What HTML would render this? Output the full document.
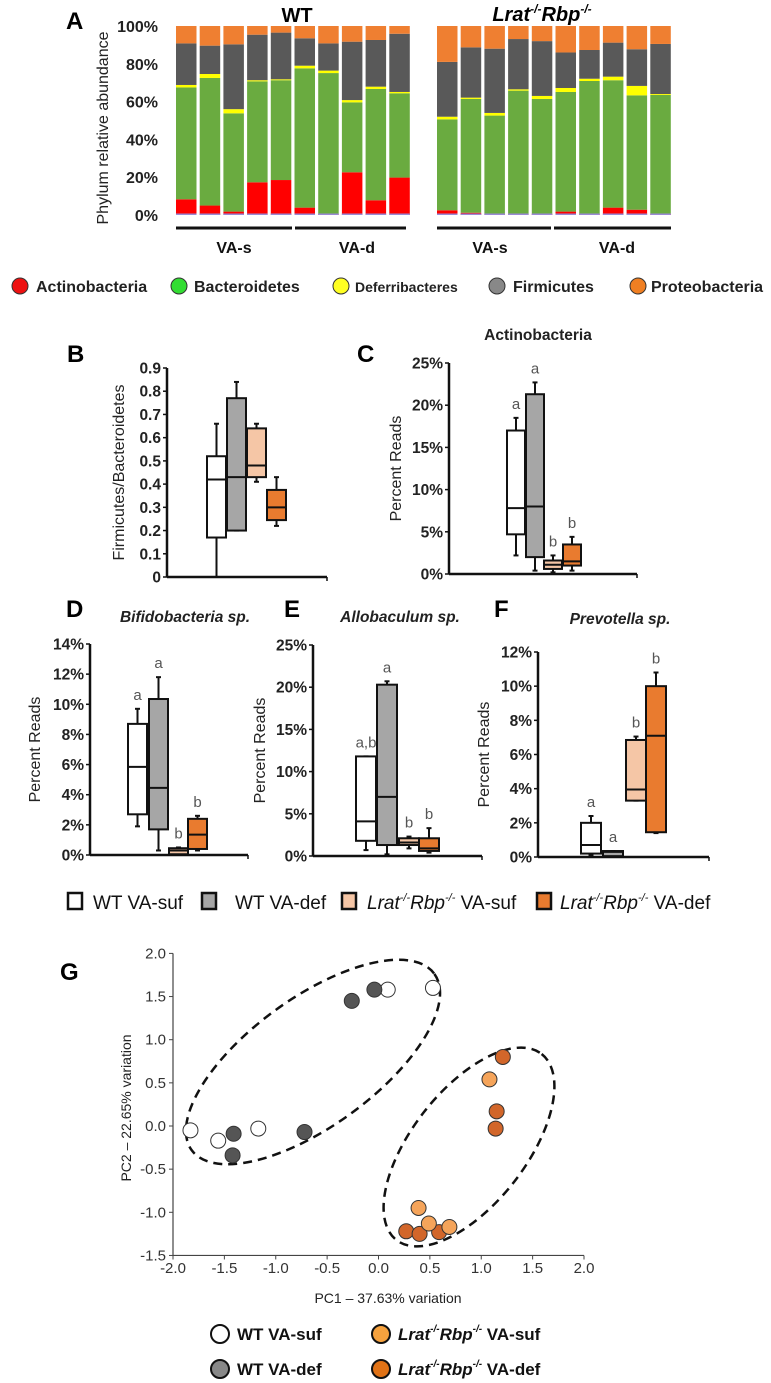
<!DOCTYPE html>
<html><head><meta charset="utf-8"><style>
html,body{margin:0;padding:0;background:#fff;}
svg{display:block;}
text{font-family:"Liberation Sans",Arial,sans-serif;}
.n{font-family:"Liberation Sans Narrow","Liberation Sans",Arial,sans-serif;}
</style></head><body>
<svg id="fig" xmlns="http://www.w3.org/2000/svg" width="771" height="1383" viewBox="0 0 771 1383">
<g font-weight="bold" font-size="24">
<text x="66" y="29">A</text>
<text x="67" y="362">B</text>
<text x="357" y="362">C</text>
<text x="66" y="617">D</text>
<text x="284" y="617">E</text>
<text x="494" y="617">F</text>
<text x="60" y="980">G</text>
</g>
<g id="pa"></g>
<g id="pleg"></g>
<g id="boxes"></g>
<g id="bleg"></g>
<g id="pg"></g>
</svg>
<script>
// ---------- Panel A data ----------
const phyla = ["Actinobacteria","Bacteroidetes","Deferribacteres","Firmicutes","Proteobacteria"];
const wtActino = [8.3,5,1.8,17.3,18.5,3.9,0.5,22.6,7.8,19.8];
const wtBacter = [59.2,67.5,52,53.4,52.8,73.7,74.6,37,58.9,44.6];
const wtDeferr = [1.3,2.1,2.2,0.6,0.5,1.4,1.3,1.2,1.2,0.7];
const wtFirmic = [22,15,34.3,24.1,24.7,14.5,14.4,30.9,24.7,30.8];
const koActino = [2.5,1.2,0.7,0.3,0.7,1.8,0.7,3.9,2.8,0.7];
const koBacter = [48.1,60.2,51.9,65.5,60.7,63.3,70.2,67.4,60.5,62.8];
const koDeferr = [1.4,0.7,1.4,0.7,1.6,2.1,1.2,1.9,5,0.5];
const koFirmic = [29,26.6,34,26.6,29,18.8,15.2,18,19.4,26.5];
const aTicks = [0,20,40,60,80,100];

// ---------- Box plot data ----------
const groups = ["WT VA-suf","WT VA-def","Lrat VA-suf","Lrat VA-def"];
const bMin=[0,0.2,0.41,0.22], bQ1=[0.17,0.2,0.43,0.245], bMed=[0.42,0.43,0.48,0.3], bQ3=[0.52,0.77,0.64,0.375], bMax=[0.66,0.84,0.66,0.43];
const bTicks=[0,0.1,0.2,0.3,0.4,0.5,0.6,0.7,0.8,0.9];
const cMin=[2.2,0.4,0.2,0.4], cQ1=[4.7,2,0.6,1], cMed=[7.8,8,1.1,1.5], cQ3=[17,21.3,1.6,3.5], cMax=[18.5,22.7,2.2,4.4];
const cLetters=["a","a","b","b"]; const cTicks=[0,5,10,15,20,25];
const dMin=[1.9,0.3,0,0.3], dQ1=[2.7,1.7,0.05,0.4], dMed=[5.85,4.45,0.3,1.35], dQ3=[8.7,10.35,0.45,2.4], dMax=[9.7,11.8,0.5,2.6];
const dLetters=["a","a","b","b"]; const dTicks=[0,2,4,6,8,10,12,14];
const eMin=[0.7,0.2,0.9,0.4], eQ1=[1.8,1.3,1.3,0.6], eMed=[4.1,7,1.6,0.9], eQ3=[11.8,20.3,2.1,2.1], eMax=[11.8,20.7,2.3,3.3];
const eLetters=["a,b","a","b","b"]; const eTicks=[0,5,10,15,20,25];
const fMin=[0.1,0,3.3,1.4], fQ1=[0.2,0.05,3.3,1.45], fMed=[0.7,0.3,3.95,7.1], fQ3=[2,0.35,6.85,10], fMax=[2.4,0.35,7.05,10.8];
const fLetters=["a","a","b","b"]; const fTicks=[0,2,4,6,8,10,12];

// ---------- PCA data ----------
const wtSufPC1=[-1.83,-1.56,-1.17,0.09,0.53], wtSufPC2=[-0.05,-0.17,-0.03,1.58,1.6];
const wtDefPC1=[-1.41,-1.42,-0.72,-0.26,-0.04], wtDefPC2=[-0.09,-0.34,-0.07,1.45,1.58];
const koSufPC1=[1.08,0.39,0.49,0.69], koSufPC2=[0.54,-0.95,-1.13,-1.17];
const koDefPC1=[1.15,1.14,0.27,0.4,0.59,1.21], koDefPC2=[0.17,-0.03,-1.22,-1.25,-1.23,0.8];
const pcTicks=[-2,-1.5,-1,-0.5,0,0.5,1,1.5,2];
const pcYTicks=[-1.5,-1,-0.5,0,0.5,1,1.5,2];

const NS="http://www.w3.org/2000/svg";
function mk(parent,tag,attrs,txt){const e=document.createElementNS(NS,tag);for(const k in attrs)e.setAttribute(k,attrs[k]);if(txt!==undefined)e.textContent=txt;parent.appendChild(e);return e;}

// ---------- Panel A ----------
(function(){
const g=document.getElementById('pa');
const y=v=>215-v*1.89;
const cols=["#ff0000","#6aab40","#ffff00","#595959","#ef7f31"];
function drawSet(x0,A,B,D,F,name){
  for(let i=0;i<A.length;i++){
    const vals=[A[i],B[i],D[i],F[i]]; vals.push(100-vals.reduce((s,v)=>s+v,0));
    let cum=0;
    const x=x0+i*23.7;
    const bg=mk(g,'g',{});
    
    
    for(let k=0;k<5;k++){
      const r=mk(bg,'rect',{x:x,y:y(cum+vals[k]),width:20.5,height:Math.max(0,vals[k]*1.89),fill:cols[k]});
      
      
      cum+=vals[k];
    }
    const p=mk(bg,'rect',{x:x,y:213.5,width:20.5,height:1.5,fill:"#9a8ad6"});
    
    
  }
}
drawSet(176,wtActino,wtBacter,wtDeferr,wtFirmic,'wt');
drawSet(437,koActino,koBacter,koDeferr,koFirmic,'lrat');
aTicks.forEach(t=>{const e=mk(g,'text',{x:158,y:y(t)+6,'text-anchor':'end','font-size':16,'font-weight':'bold',fill:'#222'},t+'%');
 
 });
const yt=mk(g,'text',{x:0,y:0,transform:'translate(108,128) rotate(-90)','text-anchor':'middle','font-size':16,fill:'#222'},'Phylum relative abundance');


const t1=mk(g,'text',{x:297,y:22,'text-anchor':'middle','font-size':20,'font-weight':'bold'},'WT');


const t2=mk(g,'text',{x:542,y:21,'text-anchor':'middle','font-size':20,'font-weight':'bold','font-style':'italic'});
t2.innerHTML='Lrat<tspan font-size="12" dy="-8">-/-</tspan><tspan dy="8">Rbp</tspan><tspan font-size="12" dy="-8">-/-</tspan>';


[[176,292,234,'VA-s'],[295,406,357,'VA-d'],[437,551,490,'VA-s'],[554,671,617,'VA-d']].forEach(s=>{
 const l=mk(g,'line',{x1:s[0],x2:s[1],y1:228,y2:228,stroke:'#111','stroke-width':3});
 
 
 const tx=mk(g,'text',{x:s[2],y:253,'text-anchor':'middle','font-size':16,'font-weight':'bold',fill:'#111'},s[3]);
 
 
});
// legend
const lg=document.getElementById('pleg');
const lc=["#ee1111","#33dd33","#ffff22","#888888","#f07f22"];
const lx=[20,179,341,497,638], tx=[36,194,355,513,651];
phyla.forEach((p,i)=>{
 const c=mk(lg,'ellipse',{cx:lx[i],cy:286,rx:8,ry:8,fill:lc[i],stroke:'#333','stroke-width':1});
 
 
 const t=mk(lg,'text',{x:tx[i],y:292,'font-size':i==2?14:16,'font-weight':'bold',fill:'#222'},p);
 
 
});
})();

// ---------- Box plots ----------
const boxFill=["#ffffff","#a6a6a6","#f5c6a6","#e97b2f"];
function boxPanel(o){
 const g=mk(document.getElementById('boxes'),'g',{});
 
 
 const y=v=>o.y0-(v/o.max)*(o.y0-o.yTop);
 mk(g,'line',{x1:o.ax,x2:o.ax,y1:o.yTop,y2:o.y0,stroke:'#111','stroke-width':2.5});
 mk(g,'line',{x1:o.ax,x2:o.axEnd,y1:o.y0,y2:o.y0,stroke:'#111','stroke-width':2.5});
 mk(g,'line',{x1:o.axEnd,x2:o.axEnd,y1:o.y0,y2:o.y0+4,stroke:'#111','stroke-width':1.5});
 o.ticks.forEach(t=>{
  mk(g,'line',{x1:o.ax-4,x2:o.ax,y1:y(t),y2:y(t),stroke:'#111','stroke-width':1.5});
  const e=mk(g,'text',{x:o.ax-6,y:y(t)+5.5,'text-anchor':'end','font-size':15.5,'font-weight':'bold',fill:'#222'},o.fmt(t));
  
  
 });
 const yt=mk(g,'text',{transform:`translate(${o.ytx},${(o.y0+o.yTop)/2}) rotate(-90)`,'text-anchor':'middle','font-size':16,fill:'#222'},o.ytitle);
 
 
 if(o.title){const t=mk(g,'text',{x:o.tx,y:o.ty,'text-anchor':'middle','font-size':15.5,'font-weight':'bold','font-style':o.italic?'italic':'normal',fill:'#222'},o.title);
  
  }
 for(let i=0;i<4;i++){
  const x=o.bx[i], w=o.bw, cx=x+w/2;
  const bg=mk(g,'g',{});
  
  
  mk(bg,'line',{x1:cx,x2:cx,y1:y(o.mx[i]),y2:y(o.q3[i]),stroke:'#111','stroke-width':2});
  mk(bg,'line',{x1:cx,x2:cx,y1:y(o.q1[i]),y2:y(o.mn[i]),stroke:'#111','stroke-width':2});
  mk(bg,'line',{x1:cx-2.5,x2:cx+2.5,y1:y(o.mx[i]),y2:y(o.mx[i]),stroke:'#111','stroke-width':2});
  mk(bg,'line',{x1:cx-2.5,x2:cx+2.5,y1:y(o.mn[i]),y2:y(o.mn[i]),stroke:'#111','stroke-width':2});
  mk(bg,'rect',{x:x,y:y(o.q3[i]),width:w,height:Math.max(1,y(o.q1[i])-y(o.q3[i])),fill:boxFill[i],stroke:'#111','stroke-width':2});
  mk(bg,'line',{x1:x,x2:x+w,y1:y(o.md[i]),y2:y(o.md[i]),stroke:'#111','stroke-width':2});
  if(o.letters){const l=mk(g,'text',{x:cx,y:y(o.mx[i])-9,'text-anchor':'middle','font-size':15,fill:'#555'},o.letters[i]);
   
   }
 }
}
const pct=t=>t+'%';
boxPanel({name:'panel-b-firmicutes-bacteroidetes',ax:167,axEnd:327,y0:577,yTop:368,max:0.9,ticks:bTicks,fmt:t=>t===0?'0':t.toFixed(1),ytitle:'Firmicutes/Bacteroidetes',ytx:124,bx:[207,227,247,267],bw:19,mn:bMin,q1:bQ1,md:bMed,q3:bQ3,mx:bMax});
boxPanel({name:'panel-c-actinobacteria',ax:449,axEnd:637,y0:574,yTop:363,max:25,ticks:cTicks,fmt:pct,ytitle:'Percent Reads',ytx:401,title:'Actinobacteria',tx:538,ty:340,bx:[507,526,544,563],bw:18,mn:cMin,q1:cQ1,md:cMed,q3:cQ3,mx:cMax,letters:cLetters});
boxPanel({name:'panel-d-bifidobacteria',ax:90,axEnd:248,y0:855,yTop:644,max:14,ticks:dTicks,fmt:pct,ytitle:'Percent Reads',ytx:40,title:'Bifidobacteria sp.',tx:185,ty:622,italic:true,bx:[128,149,169,188],bw:19,mn:dMin,q1:dQ1,md:dMed,q3:dQ3,mx:dMax,letters:dLetters});
boxPanel({name:'panel-e-allobaculum',ax:313,axEnd:482,y0:856,yTop:645,max:25,ticks:eTicks,fmt:pct,ytitle:'Percent Reads',ytx:265,title:'Allobaculum sp.',tx:400,ty:622,italic:true,bx:[356,377,399,419],bw:20,mn:eMin,q1:eQ1,md:eMed,q3:eQ3,mx:eMax,letters:eLetters});
boxPanel({name:'panel-f-prevotella',ax:538,axEnd:709,y0:857,yTop:652,max:12,ticks:fTicks,fmt:pct,ytitle:'Percent Reads',ytx:489,title:'Prevotella sp.',tx:620,ty:624,italic:true,bx:[581,603,626,646],bw:20,mn:fMin,q1:fQ1,md:fMed,q3:fQ3,mx:fMax,letters:fLetters});

// box legend
(function(){
 const g=document.getElementById('bleg');
 const bx=[68,202,342,537], tx=[93,235,367,560];
 const labels=['WT VA-suf','WT VA-def',null,null];
 for(let i=0;i<4;i++){
  const r=mk(g,'rect',{x:bx[i],y:893,width:14,height:16,fill:boxFill[i],stroke:'#111','stroke-width':2.5});
  
  
  const t=mk(g,'text',{x:tx[i],y:909,'font-size':19,fill:'#111'});
  if(labels[i]) t.textContent=labels[i];
  else t.innerHTML='<tspan font-style="italic">Lrat</tspan><tspan font-size="11" dy="-8" font-style="italic">-/-</tspan><tspan dy="8" font-style="italic">Rbp</tspan><tspan font-size="11" dy="-8" font-style="italic">-/-</tspan><tspan dy="8"> '+(i==2?'VA-suf':'VA-def')+'</tspan>';
  
  
 }
})();

// ---------- Panel G ----------
(function(){
 const g=document.getElementById('pg');
 const X=v=>173+(v+2)*102.75, Y=v=>1126-v*86.3;
 mk(g,'line',{x1:173,x2:173,y1:Y(2),y2:Y(-1.5),stroke:'#444','stroke-width':1.2});
 mk(g,'line',{x1:173,x2:X(2),y1:Y(-1.5),y2:Y(-1.5),stroke:'#444','stroke-width':1.2});
 pcYTicks.forEach(t=>{mk(g,'line',{x1:169,x2:173,y1:Y(t),y2:Y(t),stroke:'#444'});
  const e=mk(g,'text',{x:166,y:Y(t)+5,'text-anchor':'end','font-size':15,fill:'#333'},t.toFixed(1));
  
  });
 pcTicks.forEach(t=>{mk(g,'line',{x1:X(t),x2:X(t),y1:Y(-1.5),y2:Y(-1.5)+4,stroke:'#444'});
  const e=mk(g,'text',{x:X(t),y:1273,'text-anchor':'middle','font-size':15,fill:'#333'},t.toFixed(1));
  
  });
 const xt=mk(g,'text',{x:388,y:1303,'text-anchor':'middle','font-size':14,fill:'#222'},'PC1 – 37.63% variation');
 
 
 const yt=mk(g,'text',{transform:'translate(131,1108) rotate(-90)','text-anchor':'middle','font-size':14,fill:'#222'},'PC2 – 22.65% variation');
 
 
 const e1=mk(g,'ellipse',{cx:313,cy:1062,rx:150,ry:64,transform:'rotate(-36 313 1062)',fill:'none',stroke:'#111','stroke-width':2.5,'stroke-dasharray':'9 6'});
 
 
 const e2=mk(g,'ellipse',{cx:469,cy:1147,rx:118,ry:57,transform:'rotate(-52 469 1147)',fill:'none',stroke:'#111','stroke-width':2.5,'stroke-dasharray':'9 6'});
 
 
 const sets=[[wtSufPC1,wtSufPC2,'#ffffff','wt-va-suf-point'],[wtDefPC1,wtDefPC2,'#555555','wt-va-def-point'],[koDefPC1,koDefPC2,'#d2662a','lrat-va-def-point'],[koSufPC1,koSufPC2,'#f5a45a','lrat-va-suf-point']];
 sets.forEach(s=>{s[0].forEach((v,i)=>{
  const c=mk(g,'circle',{cx:X(v),cy:Y(s[1][i]),r:7.5,fill:s[2],stroke:'#333','stroke-width':1});
  
  
 });});
 // legend
 const L=[[220,1334,'#ffffff','WT VA-suf',null],[220,1369,'#888888','WT VA-def',null],[381,1334,'#f6a23e',null,'VA-suf'],[381,1369,'#e07216',null,'VA-def']];
 L.forEach(l=>{
  const c=mk(g,'circle',{cx:l[0],cy:l[1],r:9,fill:l[2],stroke:'#111','stroke-width':2});
  
  
  const t=mk(g,'text',{x:l[0]+17,y:l[1]+6,'font-size':17,'font-weight':'bold',fill:'#111'});
  if(l[3]) t.textContent=l[3];
  else t.innerHTML='<tspan font-style="italic">Lrat</tspan><tspan font-size="10" dy="-8" font-style="italic">-/-</tspan><tspan dy="8" font-style="italic">Rbp</tspan><tspan font-size="10" dy="-8" font-style="italic">-/-</tspan><tspan dy="8"> '+l[4]+'</tspan>';
  
  
 });
})();
</script>
</body></html>
